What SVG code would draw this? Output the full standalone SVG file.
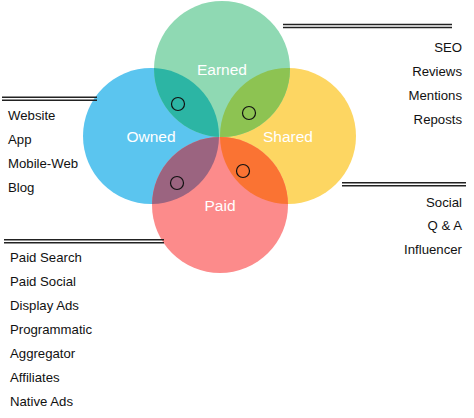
<svg xmlns="http://www.w3.org/2000/svg" width="474" height="418" viewBox="0 0 474 418">
<style>
.lbl{font-family:"Liberation Sans",Arial,sans-serif;font-size:15.5px;fill:#fff;text-anchor:middle}
.li{font-family:"Liberation Sans",Arial,sans-serif;font-size:13.2px;fill:#111}
.r{text-anchor:end}
.dl{stroke:#222;stroke-width:1.4;fill:none}
.mk{fill:none;stroke:#111;stroke-width:1.2}
</style>
<defs>
<clipPath id="cE"><circle cx="222" cy="69" r="68"/></clipPath>
<clipPath id="cP"><circle cx="220" cy="205" r="68"/></clipPath>
</defs>
<rect width="474" height="418" fill="#fff"/>
<g id="owned"><circle cx="151" cy="136" r="68" fill="#5bc5ef"/></g>
<g id="shared"><circle cx="288" cy="136" r="68" fill="#fdd662"/></g>
<g id="earned"><circle cx="222" cy="69" r="68" fill="#8fd9b3"/></g>
<g id="paid"><circle cx="220" cy="205" r="68" fill="#fc8b8b"/></g>
<g id="overlaps">
<circle cx="151" cy="136" r="68" fill="#2cb5a4" clip-path="url(#cE)"/>
<circle cx="288" cy="136" r="68" fill="#8dc352" clip-path="url(#cE)"/>
<circle cx="151" cy="136" r="68" fill="#9b6480" clip-path="url(#cP)"/>
<circle cx="288" cy="136" r="68" fill="#fa7333" clip-path="url(#cP)"/>
</g>
<g id="labels">
<text class="lbl" x="222" y="74.5">Earned</text>
<text class="lbl" x="151" y="142">Owned</text>
<text class="lbl" x="288" y="142">Shared</text>
<text class="lbl" x="220" y="211">Paid</text>
</g>
<g id="markers">
<circle class="mk" cx="178" cy="104" r="6.5"/>
<circle class="mk" cx="249" cy="113" r="6.5"/>
<circle class="mk" cx="177" cy="183" r="6.5"/>
<circle class="mk" cx="243" cy="171" r="6.5"/>
</g>
<g id="connectors">
<path class="dl" d="M283 24.5H452M283 27.5H452"/>
<path class="dl" d="M2 97.3H97M2 100.3H97"/>
<path class="dl" d="M342 182.8H466M342 185.8H466"/>
<path class="dl" d="M4 239.8H164M4 242.8H164"/>
</g>
<g id="earned-list">
<text class="li r" x="462" y="52">SEO</text>
<text class="li r" x="462" y="76">Reviews</text>
<text class="li r" x="462" y="100">Mentions</text>
<text class="li r" x="462" y="124">Reposts</text>
</g>
<g id="owned-list">
<text class="li" x="8" y="119.5">Website</text>
<text class="li" x="8" y="143.5">App</text>
<text class="li" x="8" y="167.5">Mobile-Web</text>
<text class="li" x="8" y="191.5">Blog</text>
</g>
<g id="shared-list">
<text class="li r" x="462" y="206.5">Social</text>
<text class="li r" x="462" y="230">Q &amp; A</text>
<text class="li r" x="462" y="253.5">Influencer</text>
</g>
<g id="paid-list">
<text class="li" x="10" y="261.5">Paid Search</text>
<text class="li" x="10" y="285.5">Paid Social</text>
<text class="li" x="10" y="309.5">Display Ads</text>
<text class="li" x="10" y="333.5">Programmatic</text>
<text class="li" x="10" y="357.5">Aggregator</text>
<text class="li" x="10" y="381.5">Affiliates</text>
<text class="li" x="10" y="405.5">Native Ads</text>
</g>
</svg>
